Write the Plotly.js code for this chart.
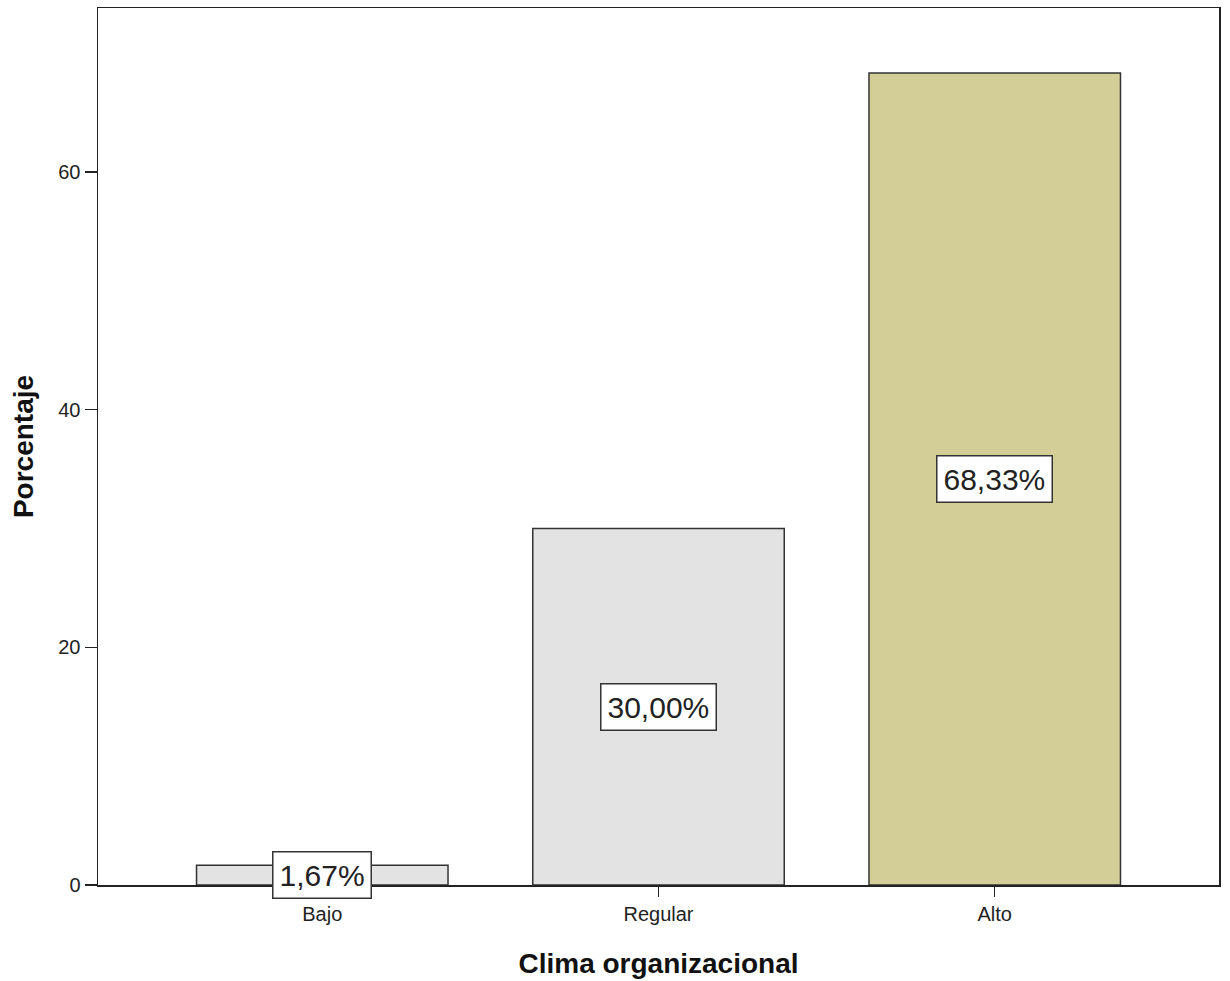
<!DOCTYPE html>
<html>
<head>
<meta charset="utf-8">
<script src="https://cdn.plot.ly/plotly-3.0.1.min.js"></script>
<style>html,body{margin:0;padding:0;background:#fff;}#chart{width:1230px;height:981px;}</style>
</head>
<body>
<div id="chart"></div>
<script>
const categories = ["Bajo", "Regular", "Alto"];
const percentages = [1.67, 30.00, 68.33];
const labels = ["1,67%", "30,00%", "68,33%"];
const barColors = ["#e3e3e3", "#e3e3e3", "#d3ce97"];
const yTicks = [0, 20, 40, 60];

const trace = {
  type: "bar",
  x: categories,
  y: percentages,
  width: 0.748,
  marker: {color: barColors, line: {color: "#333333", width: 1.5}},
  hoverinfo: "none"
};

const annotations = categories.map((c, i) => ({
  x: c, y: percentages[i] / 2, xref: "x", yref: "y",
  text: labels[i], showarrow: false,
  font: {family: "Liberation Sans, Arial, sans-serif", size: 30, color: "#222"},
  bgcolor: "#ffffff", bordercolor: "#333333", borderwidth: 1.5, borderpad: 6
}));

const layout = {
  width: 1230, height: 981,
  margin: {l: 98, r: 11, t: 8, b: 96},
  paper_bgcolor: "#ffffff", plot_bgcolor: "#ffffff",
  showlegend: false,
  font: {family: "Liberation Sans, Arial, sans-serif", color: "#222"},
  xaxis: {
    type: "category", range: [-0.667, 2.667],
    showline: true, linecolor: "#222", linewidth: 1.5, mirror: true,
    ticks: "outside", ticklen: 10, tickwidth: 1.5, tickcolor: "#222",
    showgrid: false, zeroline: false,
    tickfont: {size: 20, color: "#222"},
    title: {text: "Clima organizacional", font: {size: 28, color: "#111", weight: "bold"}, standoff: 30}
  },
  yaxis: {
    range: [0, 73.8],
    tickvals: yTicks, ticktext: yTicks.map(String),
    ticks: "outside", ticklen: 12, tickwidth: 1.5, tickcolor: "#222",
    showline: true, linecolor: "#222", linewidth: 1.5, mirror: true,
    showgrid: false, zeroline: false,
    tickfont: {size: 20, color: "#222"},
    title: {text: "Porcentaje", font: {size: 28, color: "#111", weight: "bold"}, standoff: 16}
  },
  annotations: annotations
};

Plotly.newPlot("chart", [trace], layout, {displayModeBar: false, staticPlot: true});
</script>
</body>
</html>
